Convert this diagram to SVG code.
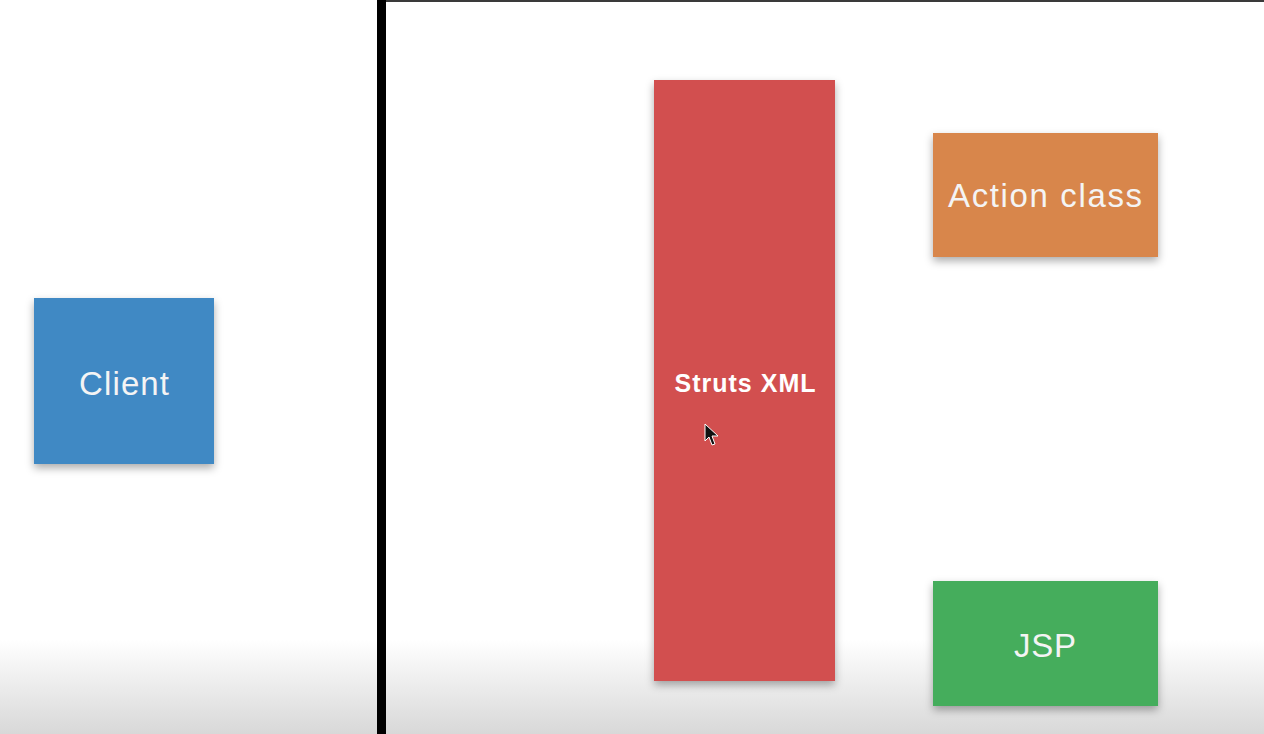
<svg xmlns="http://www.w3.org/2000/svg" width="1264" height="734" viewBox="0 0 1264 734">
<style>
.lbl{font-family:"Liberation Sans",Arial,sans-serif;fill:#f4f4f4;text-anchor:middle;dominant-baseline:central}
.big{font-size:33px}
.bold{font-size:25px;font-weight:bold;fill:#ffffff}
</style>
<defs>
<filter id="sh" x="-20%" y="-20%" width="140%" height="140%">
<feDropShadow dx="0" dy="4" stdDeviation="4" flood-color="#000" flood-opacity="0.33"/>
</filter>
<linearGradient id="floor" x1="0" y1="0" x2="0" y2="1">
<stop offset="0" stop-color="#ffffff"/>
<stop offset="1" stop-color="#d8d8d8"/>
</linearGradient>
</defs>
<rect x="0" y="0" width="1264" height="734" fill="#ffffff"/>
<rect x="0" y="640" width="1264" height="94" fill="url(#floor)"/>
<rect x="386" y="0" width="878" height="2" fill="#3a3a3a"/>
<rect x="377" y="0" width="9" height="734" fill="#000000"/>
<g id="client">
<rect x="34" y="298" width="180" height="166" fill="#4189c4" filter="url(#sh)"/>
<text class="lbl big" x="124" y="383" textLength="90" lengthAdjust="spacing">Client</text>
</g>
<g id="struts-xml">
<rect x="654" y="80" width="181" height="601" fill="#d24f4f" filter="url(#sh)"/>
<text class="lbl bold" x="745" y="383" textLength="141" lengthAdjust="spacing">Struts XML</text>
</g>
<g id="action-class">
<rect x="933" y="133" width="225" height="124" fill="#d8864b" filter="url(#sh)"/>
<text class="lbl big" x="1045" y="195" textLength="194" lengthAdjust="spacing">Action class</text>
</g>
<g id="jsp">
<rect x="933" y="581" width="225" height="125" fill="#45ad5c" filter="url(#sh)"/>
<text class="lbl big" x="1045" y="645" textLength="62" lengthAdjust="spacing">JSP</text>
</g>
<g id="connectors"></g>
<path d="M705,424 L705,441 L709,437 L712,445 L715,444 L712,436 L718,436 Z" fill="#111" stroke="#fff" stroke-width="1"/>
</svg>
